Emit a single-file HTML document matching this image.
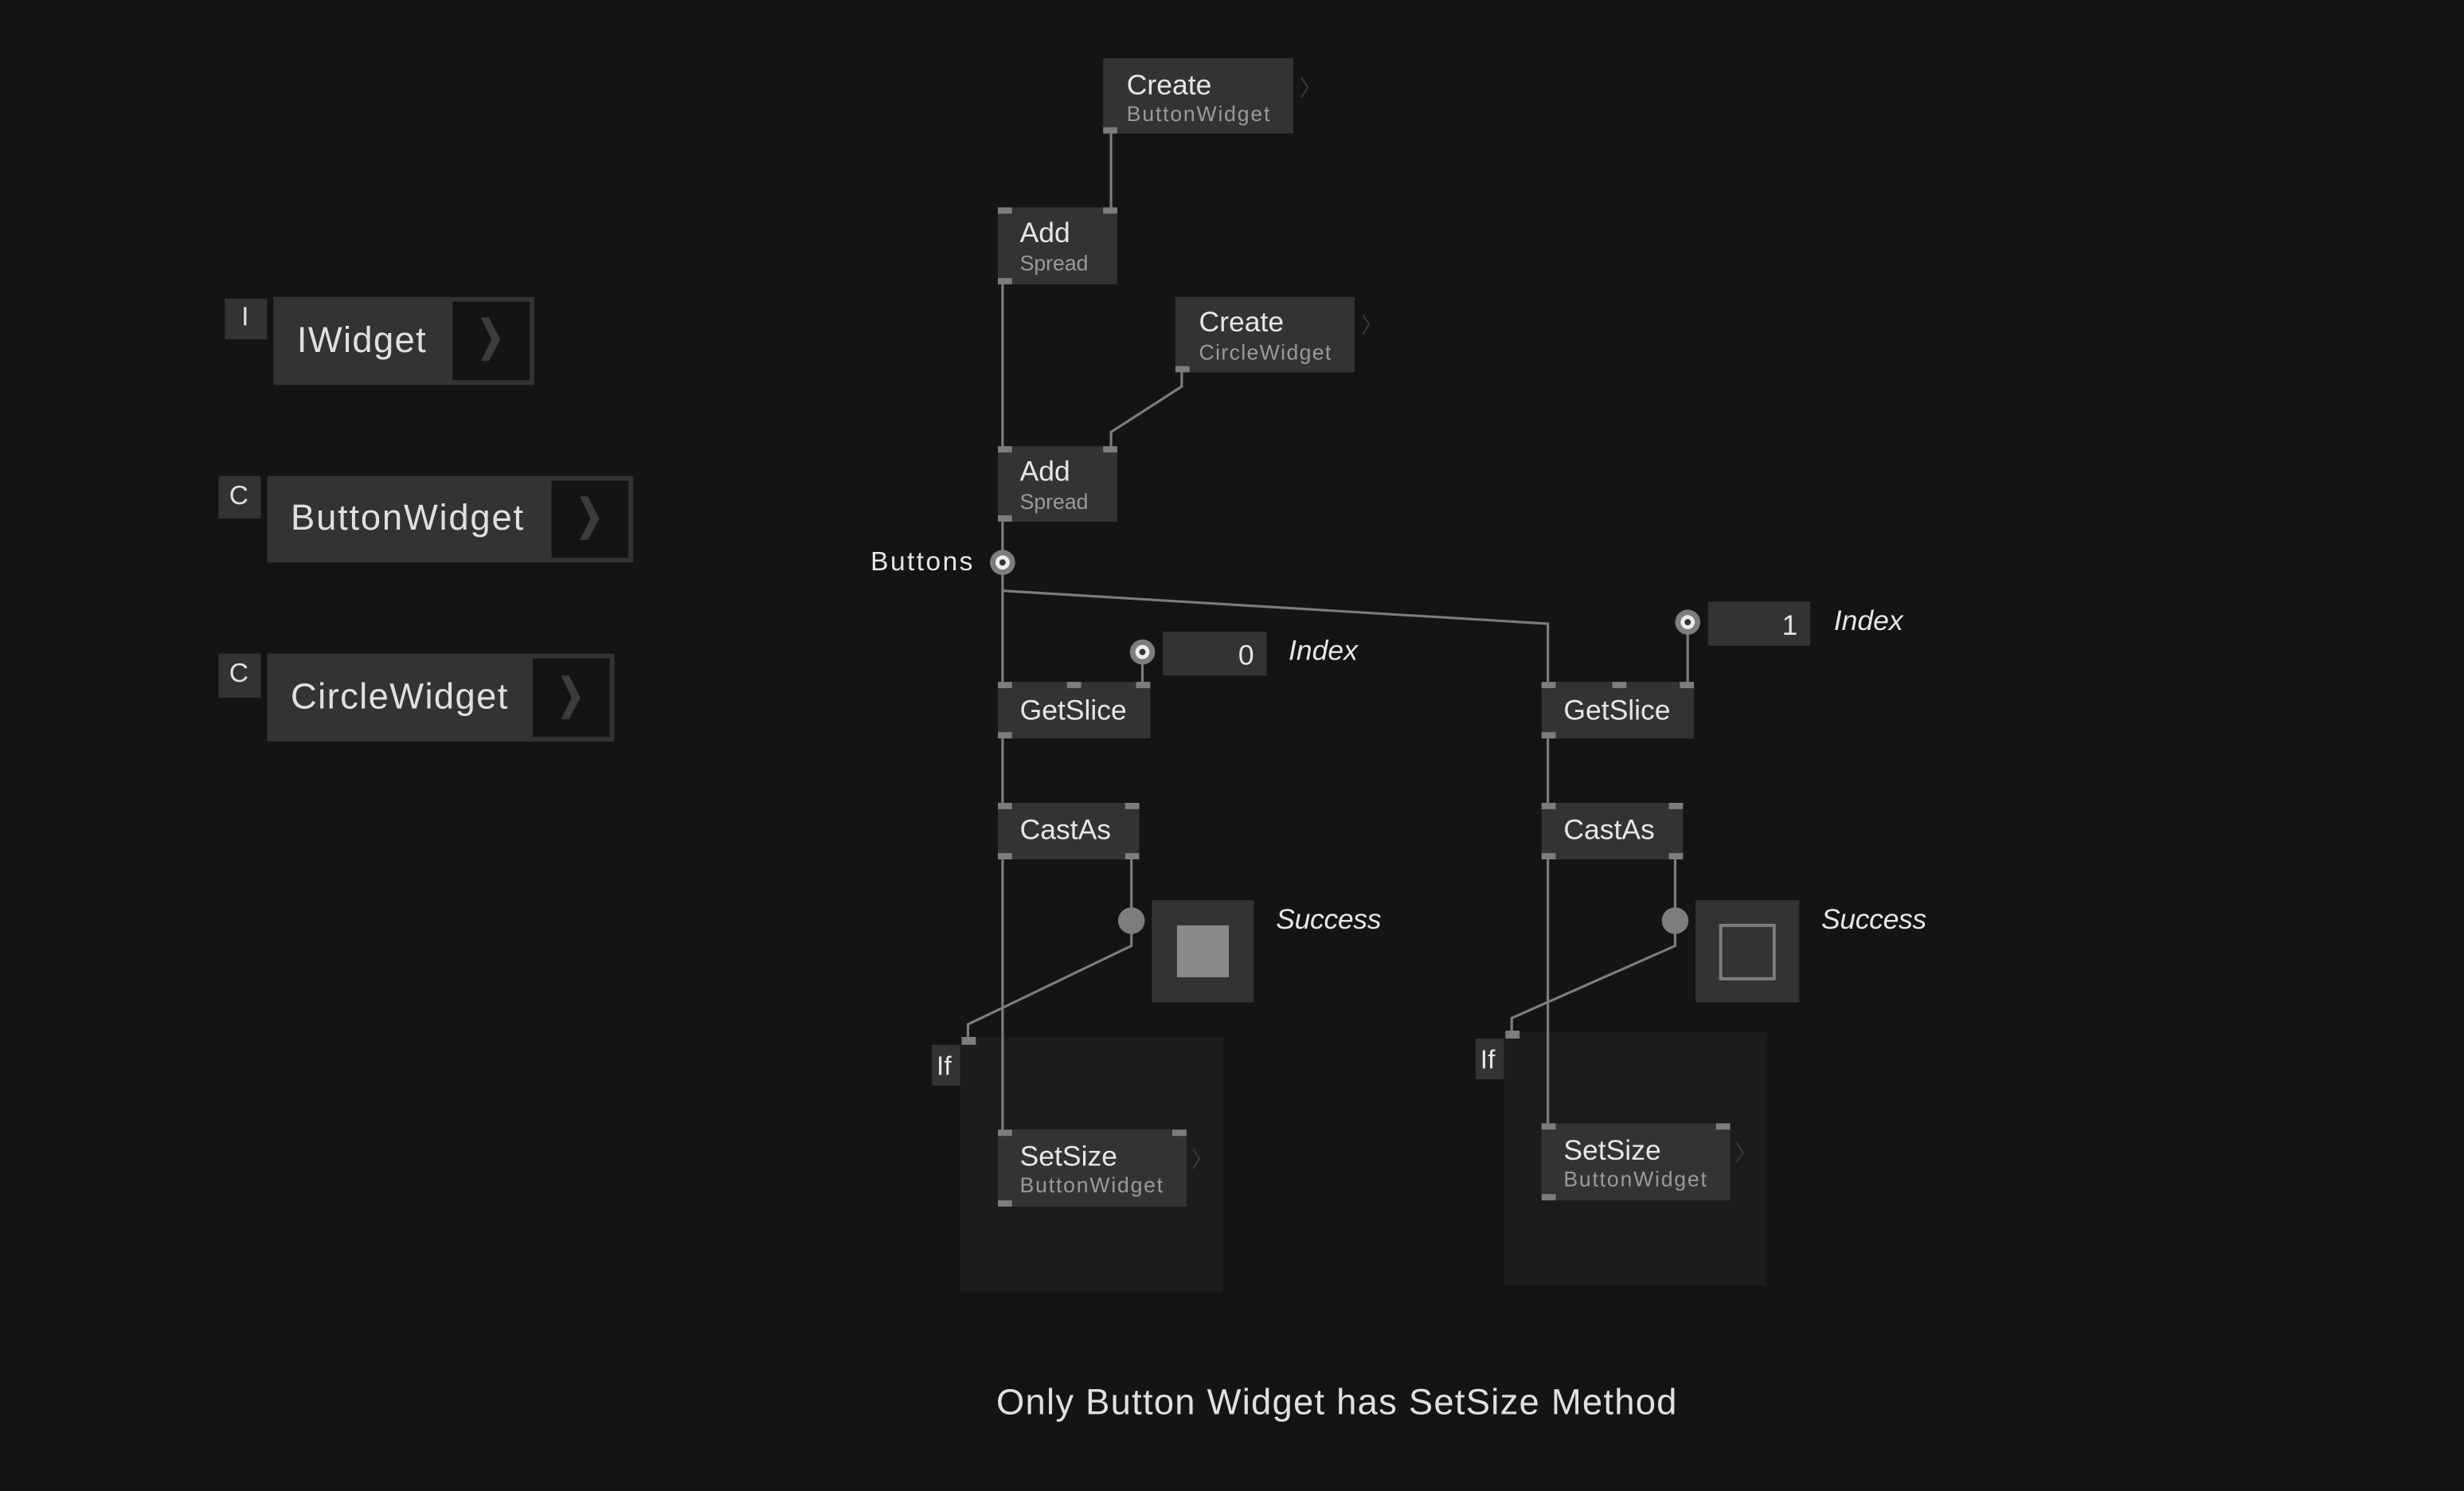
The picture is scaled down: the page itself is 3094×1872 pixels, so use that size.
<!DOCTYPE html>
<html><head><meta charset="utf-8"><style>
html,body{margin:0;padding:0;background:#141414;}
svg{display:block;}
text{font-family:"Liberation Sans",sans-serif;}
</style></head><body>
<svg width="3094" height="1872" viewBox="0 0 1568 949" preserveAspectRatio="none" xmlns="http://www.w3.org/2000/svg">
<defs><polygon id="chev" points="0,0 5.1,0 12.4,14.1 5.1,27.7 0,27.7 6.8,14.1" fill="#3c3c3c"/></defs>
<rect width="1568" height="949" fill="#141414"/>
<rect x="611" y="660" width="167" height="162" fill="#1c1c1c"/>
<rect x="957" y="657" width="167" height="161" fill="#1c1c1c"/>
<g stroke="#7d7d7d" stroke-width="1.6" fill="none">
<line x1="707" y1="85" x2="707" y2="134"/>
<line x1="638" y1="181" x2="638" y2="765"/>
<polyline points="752,236 752,246 707,275 707,286"/>
<polyline points="638,376 985,397 985,437"/>
<line x1="727" y1="415" x2="727" y2="436"/>
<line x1="1074" y1="396" x2="1074" y2="436"/>
<line x1="985" y1="470" x2="985" y2="762"/>
<polyline points="720,547 720,602 616,652 616,660"/>
<polyline points="1066,547 1066,602 962,648 962,657"/>
</g>
<g fill="#333">
<rect x="702" y="37" width="121" height="48"/>
<rect x="635" y="132" width="76" height="49"/>
<rect x="748" y="189" width="114" height="48"/>
<rect x="635" y="284" width="76" height="48"/>
<rect x="635" y="434" width="97" height="36"/>
<rect x="981" y="434" width="97" height="36"/>
<rect x="635" y="511" width="90" height="36"/>
<rect x="981" y="511" width="90" height="36"/>
<rect x="635" y="719" width="120" height="49"/>
<rect x="981" y="715" width="120" height="49"/>
<rect x="740" y="402" width="66" height="28"/>
<rect x="1087" y="383" width="65" height="28"/>
<rect x="733" y="573" width="65" height="65"/>
<rect x="1079" y="573" width="66" height="65"/>
<rect x="593" y="665" width="18" height="26"/>
<rect x="939" y="661" width="18" height="26"/>
</g>
<rect x="749" y="589" width="33" height="33" fill="#8a8a8a"/>
<rect x="1095" y="589" width="34" height="34" fill="none" stroke="#7d7d7d" stroke-width="2"/>
<g fill="#7d7d7d">
<rect x="702" y="81" width="9" height="4"/>
<rect x="635" y="132" width="9" height="4"/><rect x="702" y="132" width="9" height="4"/><rect x="635" y="177" width="9" height="4"/>
<rect x="748" y="233" width="9" height="4"/>
<rect x="635" y="284" width="9" height="4"/><rect x="702" y="284" width="9" height="4"/><rect x="635" y="328" width="9" height="4"/>
<rect x="635" y="434" width="9" height="4"/><rect x="679" y="434" width="9" height="4"/><rect x="723" y="434" width="9" height="4"/><rect x="635" y="466" width="9" height="4"/>
<rect x="981" y="434" width="9" height="4"/><rect x="1026" y="434" width="9" height="4"/><rect x="1069" y="434" width="9" height="4"/><rect x="981" y="466" width="9" height="4"/>
<rect x="635" y="511" width="9" height="4"/><rect x="716" y="511" width="9" height="4"/><rect x="635" y="543" width="9" height="4"/><rect x="716" y="543" width="9" height="4"/>
<rect x="981" y="511" width="9" height="4"/><rect x="1062" y="511" width="9" height="4"/><rect x="981" y="543" width="9" height="4"/><rect x="1062" y="543" width="9" height="4"/>
<rect x="635" y="719" width="9" height="4"/><rect x="746" y="719" width="9" height="4"/><rect x="635" y="764" width="9" height="4"/>
<rect x="981" y="715" width="9" height="4"/><rect x="1092" y="715" width="9" height="4"/><rect x="981" y="760" width="9" height="4"/>
<rect x="612" y="660" width="9" height="5"/><rect x="958" y="656" width="9" height="5"/>
<circle cx="720" cy="586" r="8.5"/><circle cx="1066" cy="586" r="8.5"/>
</g>
<g>
<circle cx="638" cy="358" r="8" fill="#7d7d7d"/><circle cx="638" cy="358" r="4.5" fill="#eee"/><circle cx="638" cy="358" r="2" fill="#333"/>
<circle cx="727" cy="415" r="8" fill="#7d7d7d"/><circle cx="727" cy="415" r="4.5" fill="#eee"/><circle cx="727" cy="415" r="2" fill="#333"/>
<circle cx="1074" cy="396" r="8" fill="#7d7d7d"/><circle cx="1074" cy="396" r="4.5" fill="#eee"/><circle cx="1074" cy="396" r="2" fill="#333"/>
</g>
<g fill="#e6e6e6" font-size="18">
<text x="717" y="60">Create</text>
<text x="649" y="154">Add</text>
<text x="763" y="211">Create</text>
<text x="649" y="306">Add</text>
<text x="649" y="458">GetSlice</text>
<text x="995" y="458">GetSlice</text>
<text x="649" y="534">CastAs</text>
<text x="995" y="534">CastAs</text>
<text x="649" y="742">SetSize</text>
<text x="995" y="738">SetSize</text>
<text x="596" y="684" font-size="17">If</text>
<text x="942" y="680" font-size="17">If</text>
<text x="554" y="363" font-size="17" textLength="65">Buttons</text>
<text x="798" y="423" font-size="18" text-anchor="end">0</text>
<text x="1144" y="404" font-size="18" text-anchor="end">1</text>
<text x="820" y="420" font-style="italic">Index</text>
<text x="1167" y="401" font-style="italic">Index</text>
<text x="812" y="591" font-style="italic" textLength="67">Success</text>
<text x="1159" y="591" font-style="italic" textLength="67">Success</text>
</g>
<g fill="#9a9a9a" font-size="13.5">
<text x="717" y="77" textLength="91">ButtonWidget</text>
<text x="649" y="172">Spread</text>
<text x="763" y="229" textLength="84">CircleWidget</text>
<text x="649" y="324">Spread</text>
<text x="649" y="759" textLength="91">ButtonWidget</text>
<text x="995" y="755" textLength="91">ButtonWidget</text>
</g>
<g fill="#3a3a3a" font-size="14">
<text x="827" y="61">〉</text><text x="866" y="212">〉</text>
<text x="758" y="743">〉</text><text x="1104" y="739">〉</text>
</g>
<g fill="#333">
<rect x="143" y="190" width="27" height="26"/>
<rect x="174" y="189" width="166" height="56"/>
<rect x="139" y="303" width="27" height="27"/>
<rect x="170" y="303" width="233" height="55"/>
<rect x="139" y="416" width="27" height="28"/>
<rect x="170" y="416" width="221" height="56"/>
</g>
<g fill="#141414">
<rect x="288" y="192" width="49" height="50"/>
<rect x="351" y="306" width="49" height="49"/>
<rect x="339" y="419" width="49" height="50"/>
</g>
<use href="#chev" x="306" y="202"/>
<use href="#chev" x="369" y="316"/>
<use href="#chev" x="357" y="430"/>
<g fill="#e0e0e0" font-size="17">
<text x="156" y="207" text-anchor="middle">I</text>
<text x="152" y="321" text-anchor="middle">C</text>
<text x="152" y="434" text-anchor="middle">C</text>
</g>
<g fill="#e0e0e0" font-size="23">
<text x="189" y="224" textLength="82">IWidget</text>
<text x="185" y="337" textLength="148">ButtonWidget</text>
<text x="185" y="451" textLength="138">CircleWidget</text>
</g>
<text x="634" y="900" fill="#e0e0e0" font-size="23" textLength="433">Only Button Widget has SetSize Method</text>
</svg>
</body></html>
